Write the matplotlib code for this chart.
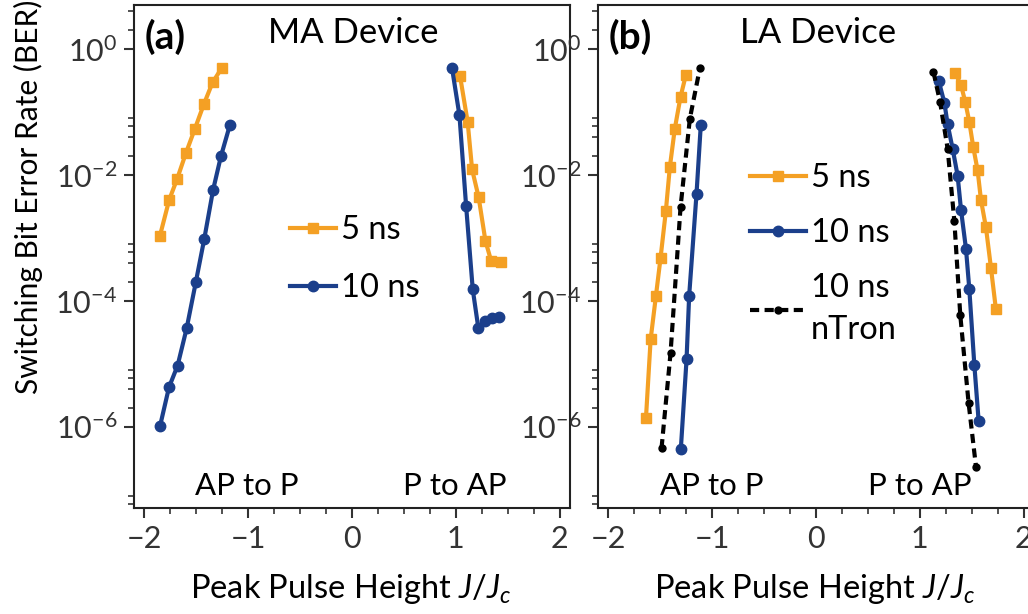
import matplotlib
matplotlib.use("Agg")
import matplotlib.pyplot as plt
import numpy as np
from matplotlib.ticker import LogLocator, NullFormatter, MultipleLocator

plt.rcParams['font.family'] = ['Lato', 'DejaVu Sans']
plt.rcParams['mathtext.fontset'] = 'custom'
plt.rcParams['mathtext.rm'] = 'Lato'
plt.rcParams['mathtext.it'] = 'Lato:italic'

ORANGE = '#F4A024'
BLUE = '#1B3F8B'

# ---- (a) MA device ----
# AP to P (negative pulses), y values are log10(BER)
a_ap_5_x = [-1.85, -1.761, -1.684, -1.600, -1.513, -1.427, -1.343, -1.257]
a_ap_5_y = [-2.967, -2.397, -2.062, -1.654, -1.265, -0.877, -0.531, -0.308]
a_ap_10_x = [-1.85, -1.763, -1.680, -1.593, -1.504, -1.424, -1.338, -1.263, -1.177]
a_ap_10_y = [-5.997, -5.375, -5.029, -4.439, -3.700, -3.025, -2.238, -1.707, -1.212]
# P to AP (positive pulses)
a_pa_5_x = [1.041, 1.114, 1.157, 1.220, 1.285, 1.340, 1.438]
a_pa_5_y = [-0.431, -1.159, -1.914, -2.356, -3.046, -3.365, -3.381]
a_pa_10_x = [0.964, 1.035, 1.099, 1.163, 1.217, 1.285, 1.352, 1.419]
a_pa_10_y = [-0.308, -1.053, -2.488, -3.817, -4.434, -4.322, -4.274, -4.258]

# ---- (b) LA device ----
b_ap_5_x = [-1.638, -1.593, -1.542, -1.497, -1.446, -1.408, -1.360, -1.305, -1.254]
b_ap_5_y = [-5.864, -4.614, -3.923, -3.313, -2.568, -1.877, -1.265, -0.761, -0.415]
b_ap_10_x = [-1.302, -1.247, -1.222, -1.151, -1.110]
b_ap_10_y = [-6.353, -4.933, -3.923, -2.301, -1.212]
b_ap_nt_x = [-1.488, -1.401, -1.305, -1.215, -1.119]
b_ap_nt_y = [-6.343, -4.828, -2.515, -1.105, -0.308]
b_pa_5_x = [1.342, 1.397, 1.438, 1.477, 1.515, 1.557, 1.589, 1.637, 1.685, 1.733]
b_pa_5_y = [-0.388, -0.574, -0.841, -1.160, -1.559, -1.930, -2.397, -2.834, -3.472, -4.136]
b_pa_10_x = [1.182, 1.237, 1.268, 1.316, 1.364, 1.397, 1.445, 1.477, 1.525, 1.567]
b_pa_10_y = [-0.506, -0.856, -1.196, -1.584, -2.010, -2.557, -3.179, -3.817, -5.013, -5.917]
b_pa_nt_x = [1.131, 1.195, 1.268, 1.333, 1.390, 1.470, 1.541]
b_pa_nt_y = [-0.362, -0.841, -1.584, -2.738, -4.231, -5.625, -6.635]

W, H = 1028, 614
fig = plt.figure(figsize=(W / 100, H / 100), dpi=100)
ax_a = fig.add_axes([134 / W, 1 - 508 / H, 436 / W, 503 / H])
ax_b = fig.add_axes([598 / W, 1 - 508 / H, 436 / W, 503 / H])

s5 = dict(color=ORANGE, lw=3, marker='s', ms=7.5)
s10 = dict(color=BLUE, lw=3, marker='o', ms=7.5)
snt = dict(color='black', lw=3, ls=(0, (2.2, 1.3)), marker='o', ms=5)

def p(x):
    return 10 ** np.array(x)

ax_a.plot(a_ap_5_x, p(a_ap_5_y), label='5 ns', **s5)
ax_a.plot(a_ap_10_x, p(a_ap_10_y), label='10 ns', **s10)
ax_a.plot(a_pa_5_x, p(a_pa_5_y), **s5)
ax_a.plot(a_pa_10_x, p(a_pa_10_y), **s10)

ax_b.plot(b_ap_5_x, p(b_ap_5_y), label='5 ns', **s5)
ax_b.plot(b_ap_10_x, p(b_ap_10_y), label='10 ns', **s10)
ax_b.plot(b_ap_nt_x, p(b_ap_nt_y), label='10 ns\nnTron', **snt)
ax_b.plot(b_pa_5_x, p(b_pa_5_y), **s5)
ax_b.plot(b_pa_10_x, p(b_pa_10_y), **s10)
ax_b.plot(b_pa_nt_x, p(b_pa_nt_y), **snt)

panels = [(ax_a, '(a)', 'MA Device', 0.307, 0.259, 0.736),
          (ax_b, '(b)', 'LA Device', 0.326, 0.261, 0.739)]
for ax, tag, dev, devx, apx, pax in panels:
    ax.set_yscale('log')
    ax.set_xlim(-2.1, 2.1)
    ax.set_ylim(5.1e-8, 5.0)
    ax.yaxis.set_major_locator(LogLocator(base=100))
    ax.yaxis.set_minor_locator(LogLocator(base=100, subs=(2, 4, 6, 8)))
    ax.yaxis.set_minor_formatter(NullFormatter())
    ax.xaxis.set_major_locator(MultipleLocator(1))
    ax.xaxis.set_minor_locator(MultipleLocator(0.25))
    ax.tick_params(which='major', length=7, width=1.5, labelsize=22, colors='#333333',
                   labelcolor='#333333', pad=5)
    ax.tick_params(which='minor', length=4, width=1.2, colors='#333333')
    for sp in ax.spines.values():
        sp.set_linewidth(1.5)
        sp.set_color('#222222')
    ax.set_xlabel('Peak Pulse Height $\\it{J/J_c}$', fontsize=23.5)
    ax.xaxis.set_label_coords(0.496, -0.127)
    ax.text(0.025, 0.936, tag, transform=ax.transAxes, fontsize=28, fontweight='bold',
            va='center', ha='left')
    ax.text(devx, 0.944, dev, transform=ax.transAxes, fontsize=25, va='center', ha='left')
    ax.text(apx, 0.044, 'AP to P', transform=ax.transAxes, fontsize=22.5,
            va='center', ha='center')
    ax.text(pax, 0.044, 'P to AP', transform=ax.transAxes, fontsize=22.5,
            va='center', ha='center')

ax_a.set_ylabel('Switching Bit Error Rate (BER)', fontsize=21.5)
ax_a.yaxis.set_label_coords(-0.208, 0.618)

leg_kw = dict(frameon=False, fontsize=23.5, handletextpad=0.15,
              borderpad=0, borderaxespad=0, loc='upper left')
ax_a.legend(bbox_to_anchor=(0.358, 0.582), handlelength=1.4, labelspacing=0.86, **leg_kw)
leg_b = ax_b.legend(bbox_to_anchor=(0.349, 0.685), handlelength=1.7, labelspacing=0.76,
                    **leg_kw)
for t in leg_b.get_texts():
    t.set_linespacing(1.5)

fig.savefig('out.png', dpi=100)
